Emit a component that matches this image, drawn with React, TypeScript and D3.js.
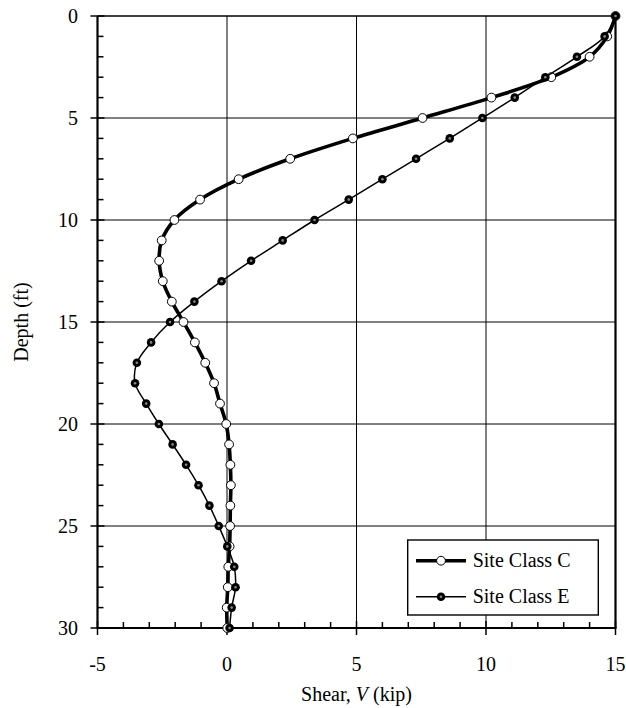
import React, { useEffect, useRef } from "react";
import * as d3 from "d3";

// Depth below ground (ft), one reading per foot
const depths: number[] = d3.range(0, 31);

// Shear force V (kip) along the depth, per site class
const shearC: number[] = [
  15, 14.68, 14.0, 12.52, 10.21, 7.55, 4.86, 2.44, 0.45, -1.04,
  -2.03, -2.52, -2.62, -2.48, -2.13, -1.68, -1.24, -0.84, -0.5, -0.27,
  -0.03, 0.08, 0.13, 0.15, 0.13, 0.12, 0.1, 0.05, 0.03, -0.01, 0.01,
];
const shearE: number[] = [
  15, 14.58, 13.51, 12.29, 11.11, 9.86, 8.6, 7.3, 6.0, 4.7,
  3.38, 2.15, 0.93, -0.21, -1.26, -2.2, -2.93, -3.48, -3.55, -3.12,
  -2.63, -2.1, -1.58, -1.1, -0.68, -0.32, 0.01, 0.28, 0.33, 0.18, 0.1,
];

const xTicks: number[] = [-5, 0, 5, 10, 15];
const yTicks: number[] = [0, 5, 10, 15, 20, 25, 30];
const seriesNames: string[] = ["Site Class C", "Site Class E"];

const W = 626;
const H = 708;
const FONT = "Liberation Serif, DejaVu Serif, serif";

export default function App() {
  const ref = useRef<SVGSVGElement | null>(null);

  useEffect(() => {
    const svg = d3.select(ref.current);
    svg.selectAll("*").remove();

    const left = 97.5, right = 615.5, top = 16, bottom = 628;
    const x = d3.scaleLinear().domain([-5, 15]).range([left, right]);
    const y = d3.scaleLinear().domain([0, 30]).range([top, bottom]);

    const g = svg.append("g");

    const txt = (sel: d3.Selection<SVGTextElement, unknown, null, undefined>) =>
      sel.style("font-family", FONT).style("font-size", "20px").attr("fill", "#000");

    // gridlines
    [0, 5, 10].forEach((v) => {
      g.append("line")
        .attr("x1", x(v)).attr("x2", x(v))
        .attr("y1", top).attr("y2", bottom)
        .attr("stroke", "#000").attr("stroke-width", 1);
    });
    [5, 10, 15, 20, 25].forEach((v) => {
      g.append("line")
        .attr("x1", left).attr("x2", right)
        .attr("y1", y(v)).attr("y2", y(v))
        .attr("stroke", "#000").attr("stroke-width", 1);
    });

    // minor ticks (inside)
    d3.range(-5, 16).forEach((v) => {
      if (v % 5 === 0) return;
      g.append("line")
        .attr("x1", x(v)).attr("x2", x(v))
        .attr("y1", bottom).attr("y2", bottom - 6)
        .attr("stroke", "#000").attr("stroke-width", 1.5);
    });
    d3.range(0, 31).forEach((v) => {
      if (v % 5 === 0) return;
      g.append("line")
        .attr("x1", left).attr("x2", left + 6)
        .attr("y1", y(v)).attr("y2", y(v))
        .attr("stroke", "#000").attr("stroke-width", 1.5);
    });
    // major ticks (cross)
    xTicks.forEach((v) => {
      g.append("line")
        .attr("x1", x(v)).attr("x2", x(v))
        .attr("y1", bottom - 7).attr("y2", bottom + 7)
        .attr("stroke", "#000").attr("stroke-width", 1.5);
    });
    yTicks.forEach((v) => {
      g.append("line")
        .attr("x1", left - 7).attr("x2", left + 7)
        .attr("y1", y(v)).attr("y2", y(v))
        .attr("stroke", "#000").attr("stroke-width", 1.5);
    });

    // frame
    g.append("line").attr("x1", left).attr("x2", right).attr("y1", top).attr("y2", top)
      .attr("stroke", "#000").attr("stroke-width", 1.4);
    g.append("line").attr("x1", right).attr("x2", right).attr("y1", top).attr("y2", bottom)
      .attr("stroke", "#000").attr("stroke-width", 2.2);
    g.append("line").attr("x1", left).attr("x2", left).attr("y1", top).attr("y2", bottom)
      .attr("stroke", "#000").attr("stroke-width", 2.2);
    g.append("line").attr("x1", left - 1).attr("x2", right + 1).attr("y1", bottom).attr("y2", bottom)
      .attr("stroke", "#000").attr("stroke-width", 2.2);

    // tick labels
    xTicks.forEach((v) => {
      txt(g.append("text"))
        .attr("x", x(v)).attr("y", 671)
        .attr("text-anchor", "middle")
        .text(String(v));
    });
    yTicks.forEach((v) => {
      txt(g.append("text"))
        .attr("x", 78).attr("y", y(v) + 7)
        .attr("text-anchor", "end")
        .text(String(v));
    });

    // axis titles
    const xt = txt(g.append("text"))
      .attr("x", (left + right) / 2).attr("y", 701)
      .attr("text-anchor", "middle");
    xt.append("tspan").text("Shear, ");
    xt.append("tspan").style("font-style", "italic").text("V");
    xt.append("tspan").text(" (kip)");

    txt(g.append("text"))
      .attr("transform", `translate(28, ${(top + bottom) / 2}) rotate(-90)`)
      .attr("text-anchor", "middle")
      .text("Depth (ft)");

    // series
    const line = d3.line<[number, number]>()
      .x((d) => x(d[0]))
      .y((d) => y(d[1]))
      .curve(d3.curveCatmullRom.alpha(0.5));

    const ptsC: [number, number][] = depths.map((d, i) => [shearC[i], d]);
    const ptsE: [number, number][] = depths.map((d, i) => [shearE[i], d]);

    g.append("path").attr("d", line(ptsC)!)
      .attr("fill", "none").attr("stroke", "#000").attr("stroke-width", 3.6);
    g.selectAll(".mc").data(ptsC).enter().append("circle")
      .attr("cx", (d) => x(d[0])).attr("cy", (d) => y(d[1])).attr("r", 4.4)
      .attr("fill", "#fff").attr("stroke", "#000").attr("stroke-width", 1);

    g.append("path").attr("d", line(ptsE)!)
      .attr("fill", "none").attr("stroke", "#000").attr("stroke-width", 1.5);
    const drawE = (cx: number, cy: number) => {
      g.append("circle").attr("cx", cx).attr("cy", cy).attr("r", 4.3).attr("fill", "#000");
      g.append("circle").attr("cx", cx).attr("cy", cy).attr("r", 1.3).attr("fill", "#888");
    };
    ptsE.forEach((p) => drawE(x(p[0]), y(p[1])));

    // legend
    const lx = 407.7, ly = 540, lw = 190.6, lh = 75;
    g.append("rect").attr("x", lx).attr("y", ly).attr("width", lw).attr("height", lh)
      .attr("fill", "#fff").attr("stroke", "#000").attr("stroke-width", 1.4);
    const rowY = [560.7, 596.7];
    g.append("line").attr("x1", 416).attr("x2", 466).attr("y1", rowY[0]).attr("y2", rowY[0])
      .attr("stroke", "#000").attr("stroke-width", 3.6);
    g.append("circle").attr("cx", 441).attr("cy", rowY[0]).attr("r", 4.4)
      .attr("fill", "#fff").attr("stroke", "#000").attr("stroke-width", 1);
    g.append("line").attr("x1", 416).attr("x2", 466).attr("y1", rowY[1]).attr("y2", rowY[1])
      .attr("stroke", "#000").attr("stroke-width", 1.5);
    drawE(441, rowY[1]);
    seriesNames.forEach((name, i) => {
      txt(g.append("text"))
        .attr("x", 472.7).attr("y", rowY[i] + 6.5)
        .text(name);
    });
  }, []);

  return (
    <svg
      ref={ref}
      width={W}
      height={H}
      style={{ position: "absolute", left: 0, top: 0, background: "#fff" }}
    />
  );
}
